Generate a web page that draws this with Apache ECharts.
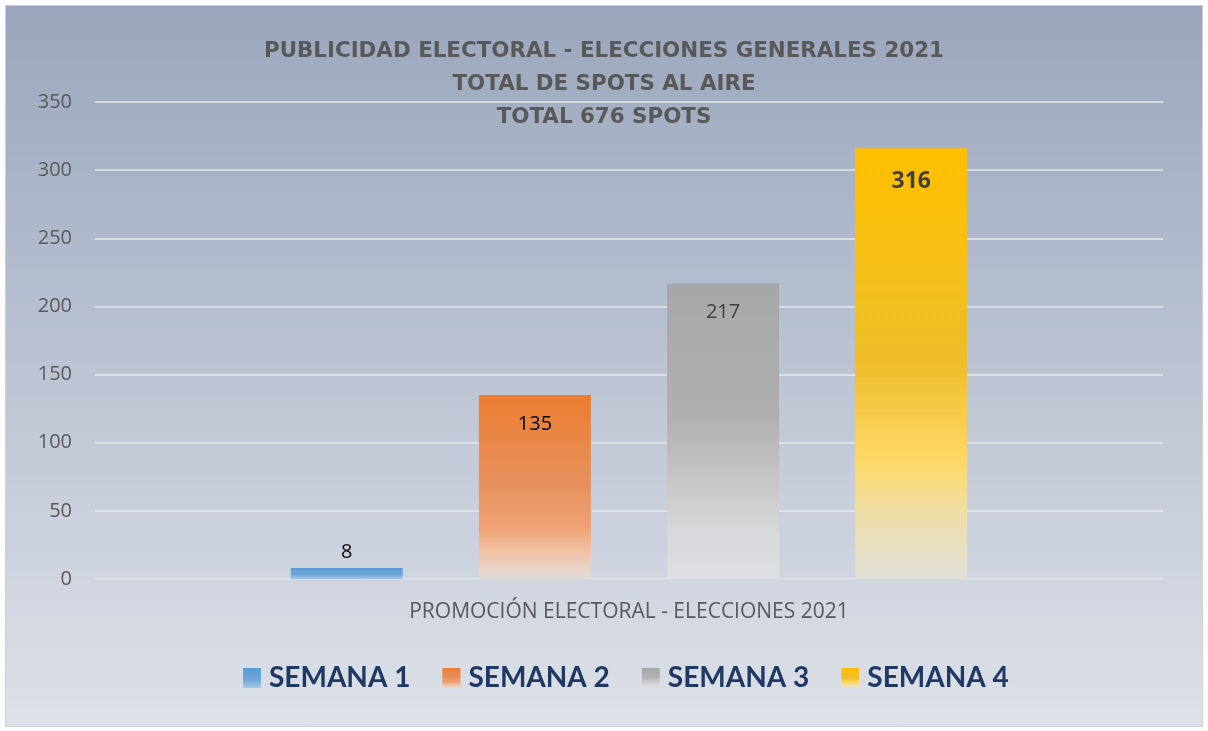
<!DOCTYPE html>
<html>
<head>
  <meta charset="utf-8">
  <title>Publicidad electoral 2021</title>
  <script src="https://cdn.jsdelivr.net/npm/echarts@6/dist/echarts.min.js"></script>
  <style>
    html, body { margin: 0; padding: 0; background: #fff; }
  </style>
</head>
<body>
  <div id="main" style="width: 1208px;height:731px;"></div>
  <script type="text/javascript">
    // data
    var category = ['PROMOCIÓN ELECTORAL - ELECCIONES 2021'];
    var weeks = ['SEMANA 1', 'SEMANA 2', 'SEMANA 3', 'SEMANA 4'];
    var spots = [8, 135, 217, 316];
    var yTicks = { min: 0, max: 350, interval: 50 };

    // bar fills, top -> bottom
    var fills = [
      [[0, '#5b9bd5'], [0.6, '#6ea6da'], [1, '#a9c8e6']],
      [[0, '#ed7d31'], [0.45, '#e68f5a'], [0.72, '#eea274'], [0.85, '#f1c1a4'], [1, '#e0dcda']],
      [[0, '#a6a7a9'], [0.45, '#b0b0b1'], [0.7, '#cacacb'], [0.85, '#d8d9dc'], [1, '#dcdee3']],
      [[0, '#ffc000'], [0.5, '#eebd2a'], [0.72, '#fed865'], [0.85, '#eedfa8'], [1, '#dfded8']]
    ];
    var labelStyle = [
      { position: 'top', color: '#000', weight: 'normal', size: 20, dist: 6 },
      { position: 'insideTop', color: '#000', weight: 'normal', size: 20, dist: 19 },
      { position: 'insideTop', color: '#404040', weight: 'normal', size: 20, dist: 19 },
      { position: 'insideTop', color: '#404040', weight: 'bold', size: 23, dist: 22 }
    ];

    function grad(stops) {
      return new echarts.graphic.LinearGradient(0, 0, 0, 1, stops.map(function (s) {
        return { offset: s[0], color: s[1] };
      }));
    }

    var myChart = echarts.init(document.getElementById('main'));

    var option = {
      animation: false,
      backgroundColor: '#fff',
      graphic: [{
        type: 'rect',
        z: -10,
        shape: { x: 5.5, y: 5.5, width: 1197, height: 721 },
        style: {
          fill: new echarts.graphic.LinearGradient(0, 0, 0, 1, [
            { offset: 0, color: '#9aa6bd' },
            { offset: 1, color: '#dde1e8' }
          ]),
          stroke: '#d0d0d0',
          lineWidth: 1
        }
      }],
      title: {
        text: 'PUBLICIDAD ELECTORAL - ELECCIONES GENERALES 2021\nTOTAL DE SPOTS AL AIRE\nTOTAL 676 SPOTS',
        left: 'center',
        top: 30,
        textStyle: {
          fontFamily: 'DejaVu Sans',
          fontSize: 21.4,
          fontWeight: 'bold',
          color: '#595959',
          lineHeight: 33
        }
      },
      legend: {
        data: weeks,
        top: 659,
        left: 238,
        icon: 'rect',
        itemGap: 32,
        itemWidth: 18,
        itemHeight: 20,
        textStyle: {
          fontFamily: 'Lato',
          fontSize: 28,
          fontWeight: 'bold',
          color: '#1f3864',
          padding: [0, 0, 0, 3]
        }
      },
      grid: {
        left: 95,
        right: 45,
        top: 102,
        bottom: 152
      },
      xAxis: {
        type: 'category',
        data: category,
        axisTick: { show: false },
        axisLine: { lineStyle: { color: '#d9d9d9', width: 1 } },
        axisLabel: {
          fontFamily: 'Open Sans',
          fontSize: 21,
          color: '#595959',
          margin: 23
        }
      },
      yAxis: {
        type: 'value',
        min: yTicks.min,
        max: yTicks.max,
        interval: yTicks.interval,
        axisLine: { show: false },
        axisTick: { show: false },
        splitLine: { lineStyle: { color: '#e6e8ec', width: 1.5 } },
        axisLabel: {
          fontFamily: 'Open Sans',
          fontSize: 20,
          color: '#595959',
          margin: 23
        }
      },
      series: weeks.map(function (name, i) {
        var ls = labelStyle[i];
        return {
          name: name,
          type: 'bar',
          barWidth: 112,
          barGap: '68%',
          data: [spots[i]],
          itemStyle: { color: grad(fills[i]) },
          label: {
            show: true,
            position: ls.position,
            distance: ls.dist,
            fontFamily: 'Open Sans',
            fontSize: ls.size,
            fontWeight: ls.weight,
            color: ls.color
          }
        };
      })
    };
    myChart.setOption(option);
  </script>
</body>
</html>
